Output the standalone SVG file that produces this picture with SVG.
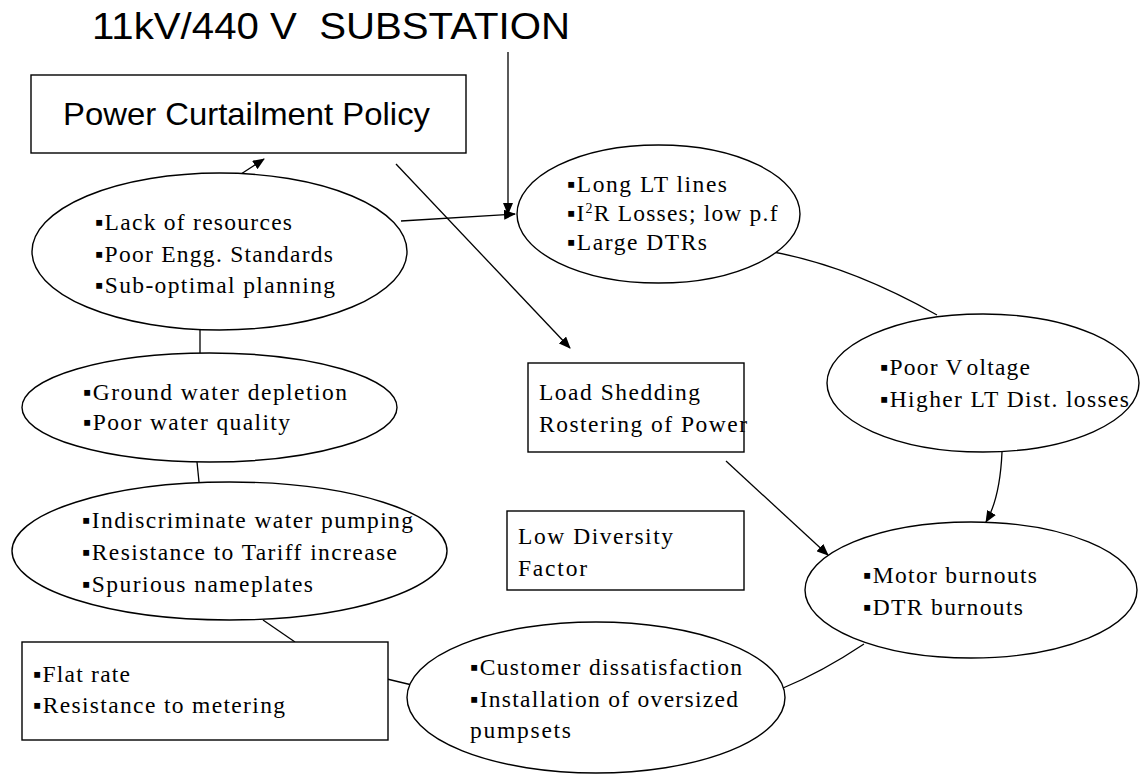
<svg xmlns="http://www.w3.org/2000/svg" width="1140" height="776" viewBox="0 0 1140 776">
  <defs>
    <marker id="arr" markerWidth="12" markerHeight="10" refX="11" refY="5" orient="auto" markerUnits="userSpaceOnUse">
      <path d="M0,0 L12,5 L0,10 Z" fill="#000"/>
    </marker>
    <style>
      .shape { fill: #fff; stroke: #000; stroke-width: 1.4; }
      .link { fill: none; stroke: #000; stroke-width: 1.3; }
      .sans { font-family: "Liberation Sans", Arial, sans-serif; fill: #000; }
      .ser { font-family: "Liberation Serif", "Times New Roman", serif; font-size: 23.5px; fill: #000; }
    </style>
  </defs>

  <rect width="1140" height="776" fill="#fff"/>

  <!-- heading -->
  <text class="sans" x="92" y="39" font-size="37" xml:space="preserve" textLength="478" lengthAdjust="spacingAndGlyphs">11kV/440 V  SUBSTATION</text>

  <!-- connectors -->
  <g id="connectors">
    <path class="link" d="M508,52 L508,214" marker-end="url(#arr)"/>
    <path class="link" d="M241,174 L264,159" marker-end="url(#arr)"/>
    <path class="link" d="M401,221 L515,214" marker-end="url(#arr)"/>
    <path class="link" d="M396,164 L570,348" marker-end="url(#arr)"/>
    <path class="link" d="M773,252 Q850,266 937,315"/>
    <path class="link" d="M1002,452 Q1000,498 986,522" marker-end="url(#arr)"/>
    <path class="link" d="M726,461 L828,555" marker-end="url(#arr)"/>
    <path class="link" d="M783,688 Q822,672 864,644"/>
    <path class="link" d="M387,679 L412,685"/>
    <path class="link" d="M263,620 L295,642"/>
    <path class="link" d="M197,462 L199,482"/>
    <path class="link" d="M200,330 L200,353"/>
  </g>

  <g id="policy">
    <rect class="shape" x="31" y="75" width="435" height="78"/>
    <text class="sans" x="63" y="125" font-size="32" textLength="367" lengthAdjust="spacingAndGlyphs">Power Curtailment Policy</text>
  </g>

  <g id="resources">
    <ellipse class="shape" cx="219.5" cy="251.5" rx="187.5" ry="78.5"/>
    <text class="ser" x="95" y="230" textLength="197" lengthAdjust="spacing">▪Lack of resources</text>
    <text class="ser" x="95" y="262" textLength="238" lengthAdjust="spacing">▪Poor Engg. Standards</text>
    <text class="ser" x="95" y="293" textLength="240" lengthAdjust="spacing">▪Sub-optimal planning</text>
  </g>

  <g id="lt-lines">
    <ellipse class="shape" cx="658.5" cy="214" rx="141.5" ry="69"/>
    <text class="ser" x="567" y="192" textLength="160" lengthAdjust="spacing">▪Long LT lines</text>
    <text class="ser" x="567" y="221" letter-spacing="1.2">▪I<tspan font-size="14" dy="-8">2</tspan><tspan dy="8">R Losses; low p.f</tspan></text>
    <text class="ser" x="567" y="250" textLength="140" lengthAdjust="spacing">▪Large DTRs</text>
  </g>

  <g id="groundwater">
    <ellipse class="shape" cx="209.5" cy="407.5" rx="187.5" ry="54.5"/>
    <text class="ser" x="83" y="400" textLength="264" lengthAdjust="spacing">▪Ground water depletion</text>
    <text class="ser" x="83" y="430" textLength="207" lengthAdjust="spacing">▪Poor water quality</text>
  </g>

  <g id="load-shedding">
    <rect class="shape" x="528" y="363" width="216" height="89"/>
    <text class="ser" x="539" y="400" textLength="161" lengthAdjust="spacing">Load Shedding</text>
    <text class="ser" x="539" y="432" textLength="208" lengthAdjust="spacing">Rostering of Power</text>
  </g>

  <g id="voltage">
    <ellipse class="shape" cx="983" cy="383" rx="156" ry="69"/>
    <text class="ser" x="880" y="375" letter-spacing="1.2">▪Poor V<tspan dx="6">oltage</tspan></text>
    <text class="ser" x="880" y="407" textLength="249" lengthAdjust="spacing">▪Higher LT Dist. losses</text>
  </g>

  <g id="pumping">
    <ellipse class="shape" cx="229.5" cy="551" rx="217.5" ry="69"/>
    <text class="ser" x="82" y="528" textLength="331" lengthAdjust="spacing">▪Indiscriminate water pumping</text>
    <text class="ser" x="82" y="560" textLength="315" lengthAdjust="spacing">▪Resistance to Tariff increase</text>
    <text class="ser" x="82" y="592" textLength="231" lengthAdjust="spacing">▪Spurious nameplates</text>
  </g>

  <g id="diversity">
    <rect class="shape" x="507" y="511" width="237" height="79"/>
    <text class="ser" x="518" y="544" textLength="155" lengthAdjust="spacing">Low Diversity</text>
    <text class="ser" x="518" y="576" textLength="69" lengthAdjust="spacing">Factor</text>
  </g>

  <g id="burnouts">
    <ellipse class="shape" cx="971" cy="590" rx="166" ry="68"/>
    <text class="ser" x="863" y="583" textLength="174" lengthAdjust="spacing">▪Motor burnouts</text>
    <text class="ser" x="863" y="615" textLength="160" lengthAdjust="spacing">▪DTR burnouts</text>
  </g>

  <g id="flat-rate">
    <rect class="shape" x="22" y="642" width="366" height="98"/>
    <text class="ser" x="33" y="682" textLength="97" lengthAdjust="spacing">▪Flat rate</text>
    <text class="ser" x="33" y="713" textLength="252" lengthAdjust="spacing">▪Resistance to metering</text>
  </g>

  <g id="customer">
    <ellipse class="shape" cx="596" cy="697.5" rx="189" ry="75.5"/>
    <text class="ser" x="470" y="675" textLength="272" lengthAdjust="spacing">▪Customer dissatisfaction</text>
    <text class="ser" x="470" y="707" textLength="268" lengthAdjust="spacing">▪Installation of oversized</text>
    <text class="ser" x="470" y="738" textLength="101" lengthAdjust="spacing">pumpsets</text>
  </g>
</svg>
